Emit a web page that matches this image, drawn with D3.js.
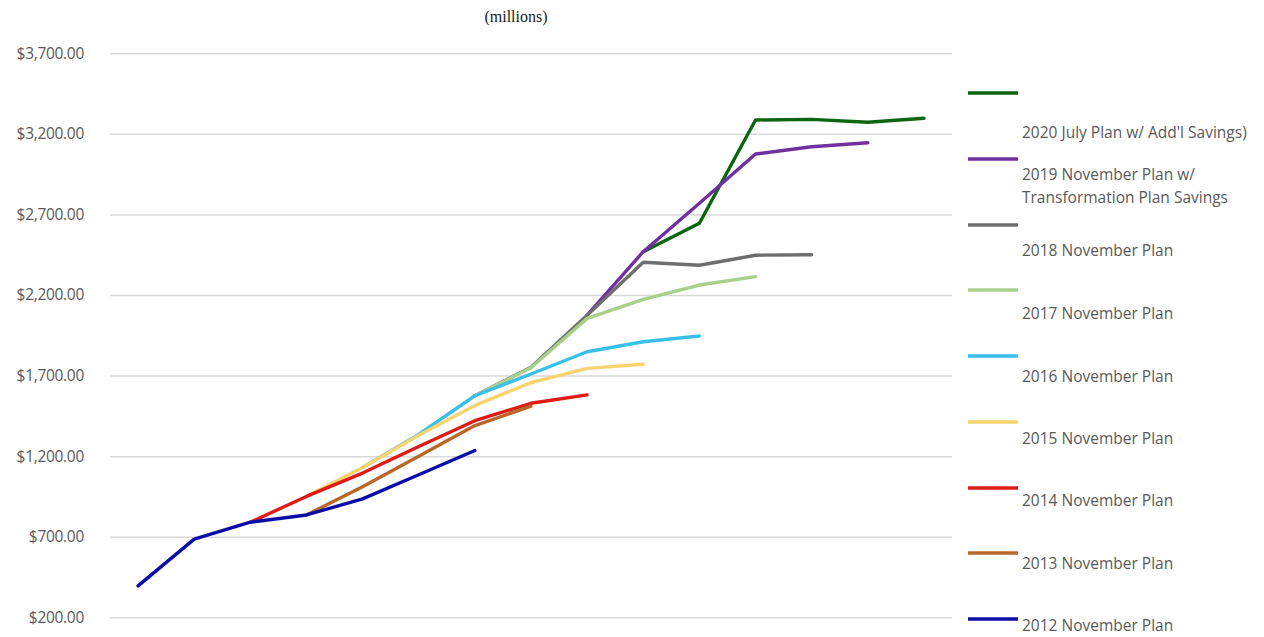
<!DOCTYPE html>
<html>
<head>
<meta charset="utf-8">
<script src="https://cdn.jsdelivr.net/npm/d3@7"></script>
<style>
  html, body { margin: 0; padding: 0; background: #fff; }
  svg { display: block; }
</style>
</head>
<body>
<svg id="chart" width="1264" height="637"></svg>
<script>
// ---- data ----
const categories = ["2011","2012","2013","2014","2015","2016","2017","2018","2019","2020","2021","2022","2023","2024","2025"];
const yTicks = [200, 700, 1200, 1700, 2200, 2700, 3200, 3700];

const plan2020 = [null,null,null,null,null,null,null,null,null,2469,2645,3286,3290,3272,3297];
const plan2019 = [null,null,null,null,null,null,null,null,2075,2469,2769,3075,3120,3145,null];
const plan2018 = [null,null,null,null,null,null,1575,1752,2075,2403,2385,2447,2450,null,null];
const plan2017 = [null,null,null,null,null,null,1575,1749,2055,2173,2262,2314,null,null,null];
const plan2016 = [null,null,null,null,1130,1335,1575,1710,1848,1910,1946,null,null,null,null];
const plan2015 = [null,null,null,950,1130,1330,1515,1656,1745,1770,null,null,null,null,null];
const plan2014 = [null,null,790,950,1095,1260,1420,1528,1580,null,null,null,null,null,null];
const plan2013 = [null,null,null,835,1010,1200,1390,1510,null,null,null,null,null,null,null];
const plan2012 = [395,685,790,835,935,1085,1235,null,null,null,null,null,null,null,null];

const seriesNames = [
  "2020 July Plan w/ Add'l Savings)",
  "2019 November Plan w/|Transformation Plan Savings",
  "2018 November Plan",
  "2017 November Plan",
  "2016 November Plan",
  "2015 November Plan",
  "2014 November Plan",
  "2013 November Plan",
  "2012 November Plan"
];
const seriesValues = [plan2020, plan2019, plan2018, plan2017, plan2016, plan2015, plan2014, plan2013, plan2012];
const seriesColors = ["#0d650f","#7030a0","#6e6e6e","#a9cf8c","#38bfea","#f8d36e","#df1b16","#b8672a","#0c0ca6"];

// ---- layout ----
const svg = d3.select("#chart");
const plot = {left: 110, right: 952, top: 53.3, bottom: 617.3};

const x = d3.scalePoint().domain(categories).range([plot.left, plot.right]).padding(0.5);
const y = d3.scaleLinear().domain([200, 3700]).range([plot.bottom, plot.top]);

// subtitle
svg.append("text")
  .attr("x", 516).attr("y", 22)
  .attr("text-anchor", "middle")
  .attr("font-family", "'Liberation Serif', 'Times New Roman', serif")
  .attr("font-size", 16)
  .attr("fill", "#1a1a1a")
  .text("(millions)");

// gridlines + y axis
const yAxis = d3.axisLeft(y)
  .tickValues(yTicks)
  .tickSize(-(plot.right - plot.left))
  .tickPadding(26)
  .tickFormat(d => "$" + d3.format(",.2f")(d));

const gAxis = svg.append("g")
  .attr("transform", `translate(${plot.left},0)`)
  .call(yAxis);
gAxis.select(".domain").remove();
gAxis.selectAll(".tick line").attr("stroke", "#d9d9d9").attr("stroke-width", 1.5);
gAxis.selectAll(".tick text")
  .attr("fill", "#595959")
  .attr("font-family", "'Open Sans', 'Noto Sans', sans-serif")
  .attr("font-size", 15.5)
  .attr("letter-spacing", "-0.3px");

// lines
const line = d3.line()
  .defined(d => d.v != null)
  .x(d => x(d.c))
  .y(d => y(d.v));

seriesValues.forEach((vals, i) => {
  const pts = vals.map((v, j) => ({c: categories[j], v}));
  svg.append("path")
    .datum(pts)
    .attr("fill", "none")
    .attr("stroke", seriesColors[i])
    .attr("stroke-width", 3.4)
    .attr("stroke-linejoin", "round")
    .attr("stroke-linecap", "round")
    .attr("d", line);
});

// legend
const legendSwatchY = [93, 159, 225, 290, 356, 422, 488, 553, 619];
const legendTextY = [138, 180, 256, 319, 382, 444, 506, 569, 631];
const lg = svg.append("g");
seriesNames.forEach((name, i) => {
  lg.append("line")
    .attr("x1", 968).attr("x2", 1018)
    .attr("y1", legendSwatchY[i]).attr("y2", legendSwatchY[i])
    .attr("stroke", seriesColors[i]).attr("stroke-width", 3.5);
  const parts = name.split("|");
  const t = lg.append("text")
    .attr("x", 1022).attr("y", legendTextY[i])
    .attr("fill", "#595959")
    .attr("font-family", "'Open Sans', 'Noto Sans', sans-serif")
    .attr("font-size", 15.5)
    .attr("letter-spacing", "0px");
  parts.forEach((p, k) => {
    t.append("tspan").attr("x", 1022).attr("dy", k === 0 ? 0 : 23).text(p);
  });
});
</script>
</body>
</html>
